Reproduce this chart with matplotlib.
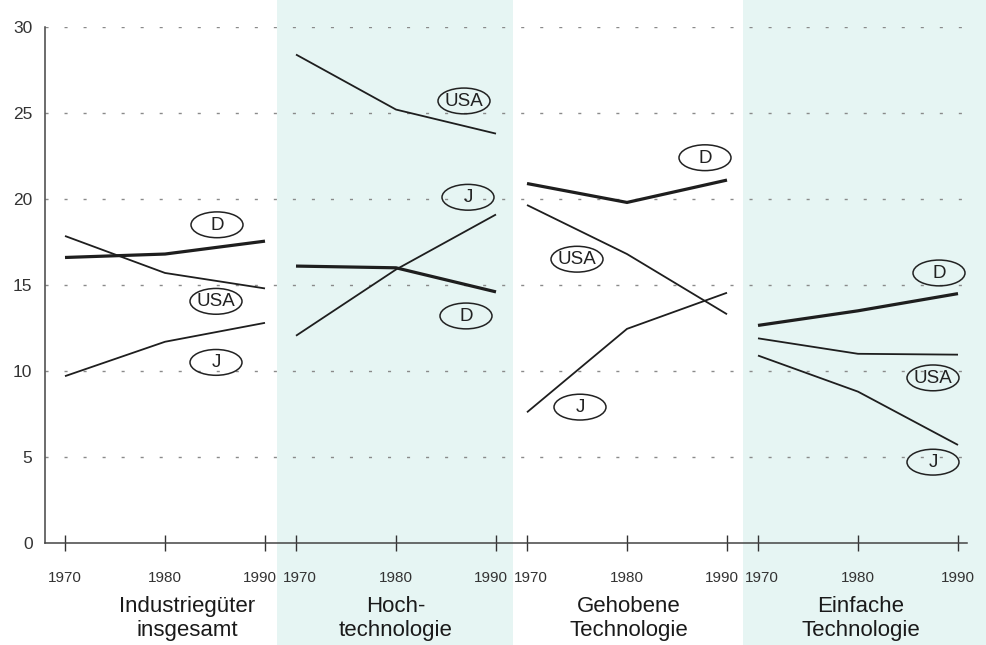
import matplotlib
matplotlib.use('Agg')
import matplotlib.pyplot as plt
from matplotlib.patches import Ellipse, Rectangle
from matplotlib.transforms import ScaledTranslation

# ---------------- data ----------------
years = [1970, 1980, 1990]
categories = ['Industriegüter\ninsgesamt', 'Hoch-\ntechnologie',
              'Gehobene\nTechnologie', 'Einfache\nTechnologie']
countries = ['D', 'USA', 'J']

D_values = [[16.6, 16.8, 17.55],
            [16.1, 16.0, 14.6],
            [20.9, 19.8, 21.1],
            [12.65, 13.5, 14.5]]
USA_values = [[17.85, 15.7, 14.8],
              [28.4, 25.2, 23.8],
              [19.65, 16.8, 13.3],
              [11.9, 11.0, 10.95]]
J_values = [[9.7, 11.7, 12.8],
            [12.05, 15.9, 19.1],
            [7.6, 12.45, 14.55],
            [10.9, 8.8, 5.7]]

y_ticks = [0, 5, 10, 15, 20, 25, 30]

# ---------------- layout / style ----------------
panel_gap = 23.1          # x-distance between panel starts (in year units)
# label placement (year offset within panel, y value)
label_pos = {
    'D':   [(15.2, 18.5), (17.0, 13.2), (17.8, 22.4), (18.1, 15.7)],
    'USA': [(15.1, 14.05), (16.8, 25.7), (5.0, 16.5), (17.5, 9.6)],
    'J':   [(15.1, 10.5), (17.2, 20.1), (5.3, 7.9), (17.5, 4.7)],
}
series = {'D': D_values, 'USA': USA_values, 'J': J_values}
lw = {'D': 2.3, 'USA': 1.3, 'J': 1.3}
cat_dx = [2.2, 0.0, 0.2, 0.3]

FONT = ['Liberation Sans', 'DejaVu Sans']
plt.rcParams['font.family'] = FONT
line_col = '#1e1e1e'
band_col = '#e6f5f3'

fig = plt.figure(figsize=(9.86, 6.45), dpi=100)
fig.patch.set_facecolor('white')
# light cyan page bands
for x0, x1 in [(277 / 986, 513 / 986), (743 / 986, 1.0)]:
    fig.patches.append(Rectangle((x0, 0), x1 - x0, 1, transform=fig.transFigure,
                                 facecolor=band_col, edgecolor='none', zorder=-10))

ax = fig.add_axes([45 / 986, 1 - 543 / 645, (967 - 45) / 986, (543 - 27) / 645])
ax.set_zorder(5)
ax.patch.set_alpha(0)
ax.set_xlim(-2.0, 90.2)
ax.set_ylim(0, 30)

# gridlines
for yv in y_ticks[1:]:
    ax.axhline(yv, color='#8a8a8a', lw=1.0, dashes=(2.2, 11.5), zorder=1)

xt, xl = [], []
for k in range(4):
    xs = [k * panel_gap + (y - years[0]) for y in years]
    xt += xs
    xl += [str(y) for y in years]
    for c in countries:
        ax.plot(xs, series[c][k], color=line_col, lw=lw[c], zorder=3,
                solid_capstyle='butt', solid_joinstyle='miter')
    for c in countries:
        dx, yv = label_pos[c][k]
        xc = k * panel_gap + dx
        ax.add_patch(Ellipse((xc, yv), 5.2, 1.5, facecolor='none',
                             edgecolor='#222222', lw=1.1, zorder=4))
        ax.text(xc, yv - 0.02, c, ha='center', va='center', fontsize=13.5,
                color='#222222', zorder=5)
    ax.text(k * panel_gap + 10 + cat_dx[k], -0.103, categories[k],
            transform=ax.get_xaxis_transform(), ha='center', va='top',
            fontsize=16, linespacing=1.2, color='#1a1a1a')

ax.set_xticks(xt)
ax.set_xticklabels(xl)
ax.set_yticks(y_ticks)
ax.tick_params(axis='x', direction='inout', length=11, width=1.0,
               colors='#333333', labelsize=11, pad=15)
ax.tick_params(axis='y', length=0, labelsize=12.5, pad=9, colors='#333333')

# nudge adjacent 1990 / 1970 labels apart, as in the reference
n = len(xl)
for i, lab in enumerate(ax.get_xticklabels()):
    shift = 0
    if i % 3 == 2 and i != n - 1:
        shift = -3.5
    elif i % 3 == 0 and i != 0:
        shift = 3.0
    if shift:
        lab.set_transform(lab.get_transform() +
                          ScaledTranslation(shift / 72, 0, fig.dpi_scale_trans))

for s in ['top', 'right']:
    ax.spines[s].set_visible(False)
for s in ['left', 'bottom']:
    ax.spines[s].set_color('#444444')
    ax.spines[s].set_linewidth(1.1)

fig.savefig('out.png', dpi=100, facecolor=fig.get_facecolor())
